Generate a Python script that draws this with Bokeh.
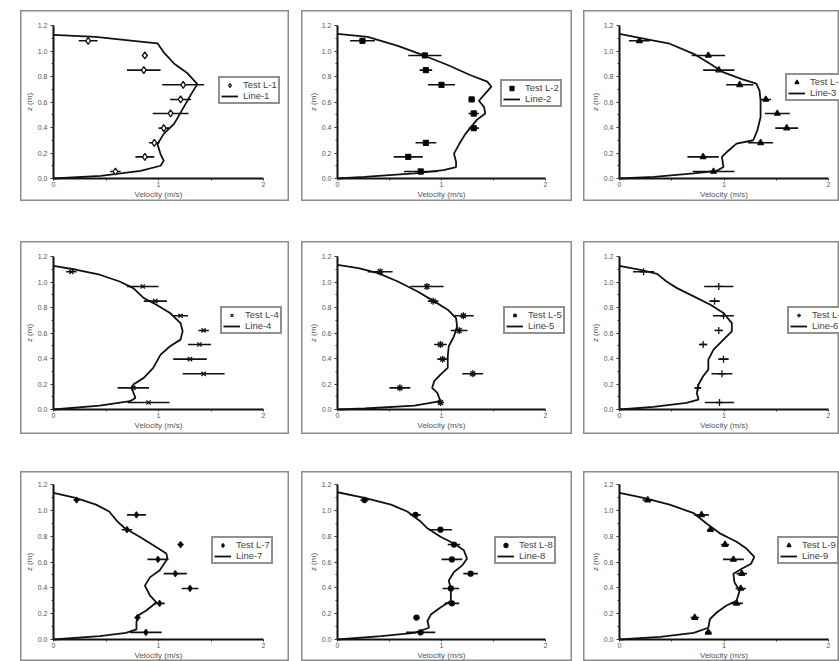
from bokeh.plotting import figure
from bokeh.layouts import row, column
from bokeh.models import (Legend, LegendItem, FixedTicker, Range1d, Spacer,
                          PrintfTickFormatter)
from bokeh.embed import file_html
from bokeh.resources import INLINE

# ---------------- data ----------------
Z_TEST = [1.08, 0.965, 0.85, 0.735, 0.62, 0.51, 0.395, 0.28, 0.17, 0.055]

TEST_1 = [0.33, 0.87, 0.86, 1.235, 1.21, 1.115, 1.05, 0.96, 0.87, 0.59]
ERR_1 = [0.09, 0.03, 0.16, 0.20, 0.10, 0.17, 0.05, 0.05, 0.09, 0.05]
TEST_2 = [0.24, 0.84, 0.85, 1.00, 1.29, 1.31, 1.31, 0.85, 0.68, 0.80]
ERR_2 = [0.12, 0.16, 0.06, 0.13, 0.03, 0.05, 0.05, 0.10, 0.14, 0.16]
TEST_3 = [0.19, 0.85, 0.95, 1.15, 1.40, 1.51, 1.60, 1.35, 0.80, 0.90]
ERR_3 = [0.10, 0.16, 0.15, 0.13, 0.05, 0.12, 0.11, 0.12, 0.15, 0.20]
TEST_4 = [0.17, 0.85, 0.97, 1.21, 1.43, 1.39, 1.30, 1.43, 0.76, 0.905]
ERR_4 = [0.05, 0.15, 0.11, 0.07, 0.05, 0.11, 0.16, 0.20, 0.15, 0.20]
TEST_5 = [0.41, 0.86, 0.92, 1.21, 1.17, 0.99, 1.01, 1.30, 0.60, 0.99]
ERR_5 = [0.12, 0.16, 0.05, 0.10, 0.08, 0.06, 0.05, 0.10, 0.10, 0.02]
TEST_6 = [0.23, 0.95, 0.91, 0.995, 0.95, 0.80, 0.995, 0.98, 0.75, 0.957]
ERR_6 = [0.10, 0.14, 0.05, 0.10, 0.04, 0.04, 0.05, 0.10, 0.03, 0.14]
TEST_7 = [0.22, 0.79, 0.70, 1.21, 0.995, 1.16, 1.30, 1.01, 0.80, 0.88]
ERR_7 = [0.03, 0.09, 0.05, 0.03, 0.10, 0.11, 0.08, 0.05, 0.03, 0.15]
TEST_8 = [0.26, 0.75, 0.99, 1.12, 1.10, 1.28, 1.09, 1.10, 0.76, 0.80]
ERR_8 = [0.04, 0.05, 0.11, 0.06, 0.10, 0.07, 0.08, 0.07, 0.03, 0.14]
TEST_9 = [0.27, 0.785, 0.87, 1.01, 1.09, 1.17, 1.16, 1.12, 0.72, 0.85]
ERR_9 = [0.05, 0.07, 0.03, 0.04, 0.10, 0.05, 0.05, 0.06, 0.04, 0.03]

LINE_1_V = [0, 0.40, 0.76, 0.99, 1.05, 1.15, 1.27, 1.37, 1.31, 1.22, 1.15, 1.05, 0.99, 1.02, 1.05, 1.02, 0.83, 0.45, 0]
LINE_1_Z = [1.127, 1.11, 1.08, 1.06, 0.99, 0.90, 0.83, 0.74, 0.66, 0.53, 0.43, 0.35, 0.27, 0.19, 0.14, 0.10, 0.06, 0.02, 0]
LINE_2_V = [0, 0.29, 0.58, 0.83, 1.06, 1.28, 1.44, 1.48, 1.42, 1.36, 1.41, 1.42, 1.34, 1.28, 1.23, 1.17, 1.12, 1.14, 1.14, 1.02, 0.74, 0.26, 0]
LINE_2_Z = [1.135, 1.11, 1.04, 0.965, 0.89, 0.81, 0.76, 0.72, 0.665, 0.61, 0.56, 0.51, 0.46, 0.40, 0.35, 0.27, 0.195, 0.13, 0.09, 0.065, 0.04, 0.013, 0]
LINE_3_V = [0, 0.29, 0.48, 0.71, 0.84, 0.99, 1.17, 1.31, 1.34, 1.35, 1.35, 1.32, 1.28, 1.12, 1.03, 0.98, 0.995, 0.93, 0.71, 0.33, 0]
LINE_3_Z = [1.135, 1.088, 1.057, 0.978, 0.913, 0.835, 0.78, 0.744, 0.69, 0.61, 0.48, 0.38, 0.30, 0.274, 0.21, 0.17, 0.09, 0.06, 0.04, 0.013, 0]
LINE_4_V = [0, 0.22, 0.44, 0.63, 0.76, 0.86, 0.98, 1.11, 1.21, 1.23, 1.21, 1.11, 1.02, 0.95, 0.86, 0.76, 0.75, 0.78, 0.73, 0.44, 0]
LINE_4_Z = [1.127, 1.096, 1.057, 1.004, 0.952, 0.874, 0.822, 0.757, 0.678, 0.613, 0.548, 0.496, 0.43, 0.326, 0.248, 0.196, 0.157, 0.091, 0.065, 0.031, 0]
LINE_5_V = [0, 0.2, 0.39, 0.58, 0.77, 0.93, 1.06, 1.14, 1.15, 1.12, 1.07, 1.06, 1.06, 0.99, 0.93, 0.91, 0.96, 0.99, 0.74, 0.26, 0]
LINE_5_Z = [1.135, 1.109, 1.07, 1.004, 0.926, 0.848, 0.783, 0.717, 0.652, 0.574, 0.496, 0.417, 0.326, 0.274, 0.222, 0.17, 0.13, 0.065, 0.031, 0.008, 0]
LINE_6_V = [0, 0.2, 0.36, 0.45, 0.55, 0.71, 0.87, 0.995, 1.075, 1.075, 0.995, 0.9, 0.85, 0.85, 0.80, 0.756, 0.74, 0.756, 0.64, 0.325, 0]
LINE_6_Z = [1.127, 1.096, 1.064, 1.004, 0.952, 0.887, 0.822, 0.757, 0.678, 0.613, 0.548, 0.47, 0.391, 0.313, 0.261, 0.196, 0.13, 0.078, 0.052, 0.021, 0]
LINE_7_V = [0, 0.21, 0.405, 0.53, 0.61, 0.68, 0.82, 0.95, 1.075, 1.085, 1.01, 0.92, 0.87, 0.92, 0.98, 0.88, 0.80, 0.79, 0.79, 0.69, 0.44, 0]
LINE_7_Z = [1.135, 1.096, 1.044, 0.991, 0.913, 0.861, 0.796, 0.73, 0.665, 0.626, 0.535, 0.483, 0.417, 0.339, 0.287, 0.222, 0.183, 0.13, 0.078, 0.052, 0.026, 0]
LINE_8_V = [0, 0.26, 0.515, 0.67, 0.80, 0.865, 0.99, 1.12, 1.215, 1.245, 1.20, 1.12, 1.07, 1.09, 1.09, 0.99, 0.90, 0.865, 0.88, 0.74, 0.42, 0]
LINE_8_Z = [1.14, 1.096, 1.044, 0.991, 0.913, 0.861, 0.796, 0.743, 0.691, 0.626, 0.574, 0.522, 0.457, 0.391, 0.30, 0.248, 0.196, 0.143, 0.091, 0.052, 0.026, 0]
LINE_9_V = [0, 0.23, 0.48, 0.71, 0.83, 0.96, 1.12, 1.215, 1.29, 1.26, 1.17, 1.09, 1.10, 1.15, 1.12, 1.02, 0.93, 0.865, 0.85, 0.71, 0.39, 0]
LINE_9_Z = [1.135, 1.096, 1.044, 0.978, 0.90, 0.822, 0.757, 0.704, 0.639, 0.587, 0.548, 0.509, 0.443, 0.378, 0.30, 0.261, 0.209, 0.157, 0.091, 0.052, 0.021, 0]

TEST_LABELS = ["Test L-%d" % i for i in range(1, 10)]
LINE_LABELS = ["Line-%d" % i for i in range(1, 10)]
X_TICKS = [0, 1, 2]
X_MINOR = [0.5, 1.5]
Y_TICKS = [0, 0.2, 0.4, 0.6, 0.8, 1.0, 1.2]
Y_MINOR = [0.1, 0.3, 0.5, 0.7, 0.9, 1.1]
X_LABEL = "Velocity (m/s)"
Y_LABEL = "z (m)"

TESTS = [TEST_1, TEST_2, TEST_3, TEST_4, TEST_5, TEST_6, TEST_7, TEST_8, TEST_9]
ERRS = [ERR_1, ERR_2, ERR_3, ERR_4, ERR_5, ERR_6, ERR_7, ERR_8, ERR_9]
LINES_V = [LINE_1_V, LINE_2_V, LINE_3_V, LINE_4_V, LINE_5_V, LINE_6_V, LINE_7_V, LINE_8_V, LINE_9_V]
LINES_Z = [LINE_1_Z, LINE_2_Z, LINE_3_Z, LINE_4_Z, LINE_5_Z, LINE_6_Z, LINE_7_Z, LINE_8_Z, LINE_9_Z]

# ---------------- styling / geometry ----------------
MARKERS = ["diamond", "square", "triangle", "x", "asterisk", "cross", "diamond", "circle", "triangle"]
FILLS = ["white", "black", "black", "black", "black", "black", "black", "black", "black"]
SIZES = [7, 5, 6, 6, 7, 7, 6, 5, 6]

COL_W = [269, 271, 256]
COL_PADL = [33, 36, 36]
COL_PX = [210, 208, 209]
ROW_H = [191, 193, 190]
ROW_PADT = [15, 15, 13]
ROW_FRAME = [153, 153, 155]
LEG_POS = [(198, 97), (199, 94), (202, 100),
           (200, 100), (202, 100), (204, 100),
           (191, 97), (193, 97), (194, 97)]

FONT = "Liberation Sans"


def make_panel(k):
    r, c = divmod(k, 3)
    W, H = COL_W[c], ROW_H[r]
    ppx = COL_PX[c] / 2.0
    ppy = ROW_FRAME[r] / 1.2
    x0 = -COL_PADL[c] / ppx
    x1 = (W - COL_PADL[c]) / ppx
    y1 = 1.2 + ROW_PADT[r] / ppy
    y0 = -(H - ROW_PADT[r] - ROW_FRAME[r]) / ppy
    p = figure(width=W, height=H, output_backend="svg", toolbar_location=None,
               x_range=Range1d(x0, x1), y_range=Range1d(y0, y1),
               min_border=0, min_border_left=0, min_border_right=0,
               min_border_top=0, min_border_bottom=0)
    p.outline_line_color = "#8c8c8c"
    p.outline_line_width = 2
    p.grid.visible = False
    p.background_fill_color = "white"
    p.border_fill_color = "white"

    for ax in (p.xaxis[0], p.yaxis[0]):
        ax.fixed_location = 0
        ax.axis_line_width = 2
        ax.axis_line_color = "#111111"
        ax.major_tick_line_color = "#333333"
        ax.minor_tick_line_color = "#333333"
        ax.major_tick_out = 3
        ax.major_tick_in = 0
        ax.minor_tick_out = 2
        ax.minor_tick_in = 0
        ax.major_label_text_font = FONT
        ax.major_label_text_font_size = "7px"
        ax.major_label_text_color = "#555555"
        ax.axis_label_text_font = FONT
        ax.axis_label_text_font_size = "8px"
        ax.axis_label_text_color = "#555555"
        ax.axis_label_text_font_style = "normal"
    p.xaxis[0].bounds = (0, 2)
    p.yaxis[0].bounds = (0, 1.2)
    p.xaxis[0].ticker = FixedTicker(ticks=X_TICKS, minor_ticks=X_MINOR)
    p.yaxis[0].ticker = FixedTicker(ticks=Y_TICKS, minor_ticks=Y_MINOR)
    p.yaxis[0].formatter = PrintfTickFormatter(format="%.1f")
    p.xaxis[0].axis_label = X_LABEL
    p.yaxis[0].axis_label = Y_LABEL
    p.xaxis[0].major_tick_out = 2
    p.xaxis[0].major_label_standoff = 1
    p.xaxis[0].axis_label_standoff = 0
    p.yaxis[0].major_label_standoff = 3
    p.yaxis[0].axis_label_standoff = 1

    line_r = p.line(LINES_V[k], LINES_Z[k], line_color="#111111", line_width=1.8)
    lo = [v - e for v, e in zip(TESTS[k], ERRS[k])]
    hi = [v + e for v, e in zip(TESTS[k], ERRS[k])]
    p.segment(x0=lo, y0=Z_TEST, x1=hi, y1=Z_TEST, line_color="#111111", line_width=1.6)
    pts = p.scatter(TESTS[k], Z_TEST, marker=MARKERS[k], size=SIZES[k],
                    fill_color=FILLS[k], line_color="#111111", line_width=1.3)

    legend = Legend(items=[LegendItem(label=TEST_LABELS[k], renderers=[pts]),
                           LegendItem(label=LINE_LABELS[k], renderers=[line_r])],
                    location=LEG_POS[k])
    legend.label_text_font = FONT
    legend.label_text_font_size = "9.5px"
    legend.label_text_color = "#444444"
    legend.label_height = 10
    legend.label_standoff = 5
    legend.glyph_height = 10
    legend.glyph_width = 17
    legend.spacing = 0
    legend.padding = 1
    legend.margin = 0
    legend.border_line_color = "#222222"
    legend.border_line_width = 2
    legend.background_fill_alpha = 1
    p.add_layout(legend)
    return p


panels = [make_panel(k) for k in range(9)]

rows = []
for r in range(3):
    rows.append(row(Spacer(width=20, height=ROW_H[r]), panels[3 * r],
                    Spacer(width=12, height=ROW_H[r]), panels[3 * r + 1],
                    Spacer(width=11, height=ROW_H[r]), panels[3 * r + 2]))

layout = column(Spacer(width=839, height=10), rows[0],
                Spacer(width=839, height=40), rows[1],
                Spacer(width=839, height=37), rows[2])

open("out.html", "w").write(file_html(layout, INLINE))
